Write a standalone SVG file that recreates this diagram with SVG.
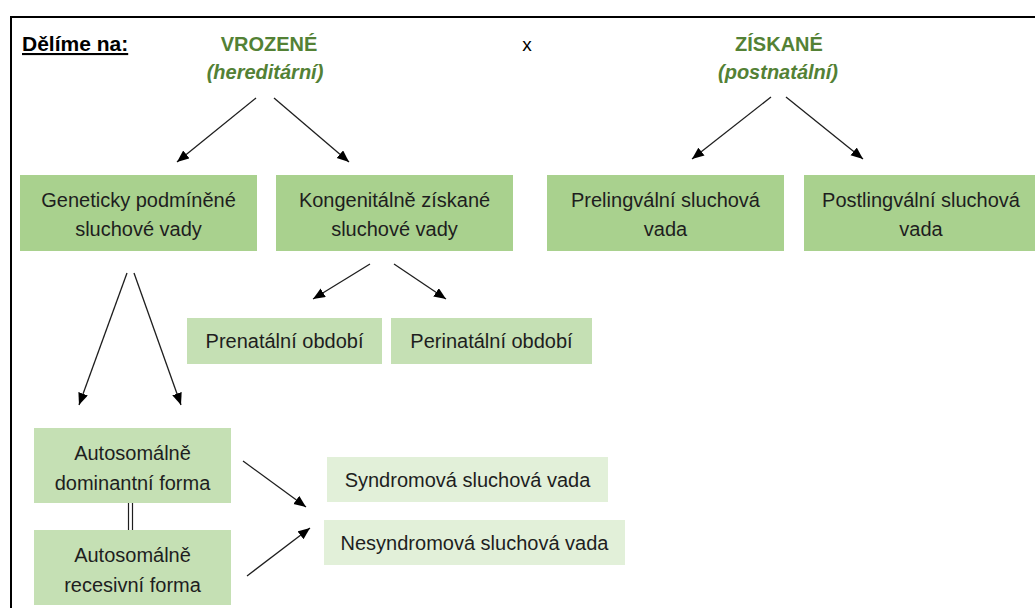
<svg xmlns="http://www.w3.org/2000/svg" width="1035" height="608" viewBox="0 0 1035 608">
<style>
.t{font-family:"Liberation Sans",Arial,sans-serif;font-size:20px;fill:#1e1e1e;text-anchor:middle}
.h{font-family:"Liberation Sans",Arial,sans-serif;font-size:20px;font-weight:bold;fill:#538135;text-anchor:middle}
.hi{font-style:italic}
.b1{fill:#A9D18E}
.b2{fill:#C5E0B4}
.b3{fill:#E2F0D9}
.c{stroke:#1e1e1e;stroke-width:1.3;fill:none;marker-end:url(#ah)}
</style>
<defs>
<marker id="ah" markerUnits="userSpaceOnUse" markerWidth="13" markerHeight="11" refX="12" refY="5" orient="auto">
<path d="M0,0 L12,5 L0,10 z" fill="#000"/>
</marker>
</defs>
<rect width="1035" height="608" fill="#fff"/>
<g id="frame">
<line x1="10" y1="17" x2="1035" y2="17" stroke="#000" stroke-width="2"/>
<line x1="11" y1="16" x2="11" y2="608" stroke="#000" stroke-width="2"/>
</g>
<g id="header">
<text x="22" y="51" font-family="Liberation Sans,Arial,sans-serif" font-size="21" font-weight="bold" fill="#000" text-decoration="underline">Dělíme na:</text>
<text x="527" y="51" font-family="Liberation Sans,Arial,sans-serif" font-size="19" fill="#000" text-anchor="middle">x</text>
</g>
<g id="vrozene">
<text class="h" x="269" y="51">VROZENÉ</text>
<text class="h hi" x="265" y="79">(hereditární)</text>
</g>
<g id="ziskane">
<text class="h" x="779" y="51">ZÍSKANÉ</text>
<text class="h hi" x="778" y="79">(postnatální)</text>
</g>
<g id="geneticky">
<rect class="b1" x="20" y="175" width="237" height="76"/>
<text class="t" x="138.5" y="207">Geneticky podmíněné</text>
<text class="t" x="138.5" y="236">sluchové vady</text>
</g>
<g id="kongenitalne">
<rect class="b1" x="276" y="175" width="237" height="76"/>
<text class="t" x="394.5" y="207">Kongenitálně získané</text>
<text class="t" x="394.5" y="236">sluchové vady</text>
</g>
<g id="prelingvalni">
<rect class="b1" x="547" y="175" width="237" height="76"/>
<text class="t" x="665.5" y="207">Prelingvální sluchová</text>
<text class="t" x="665.5" y="236">vada</text>
</g>
<g id="postlingvalni">
<rect class="b1" x="804" y="175" width="236" height="76"/>
<text class="t" x="921" y="207">Postlingvální sluchová</text>
<text class="t" x="921" y="236">vada</text>
</g>
<g id="prenatalni">
<rect class="b2" x="187" y="318" width="195" height="46"/>
<text class="t" x="284.5" y="348">Prenatální období</text>
</g>
<g id="perinatalni">
<rect class="b2" x="391" y="318" width="201" height="46"/>
<text class="t" x="491.5" y="348">Perinatální období</text>
</g>
<g id="dominantni">
<rect class="b2" x="34" y="428" width="197" height="75"/>
<text class="t" x="132.5" y="460">Autosomálně</text>
<text class="t" x="132.5" y="490">dominantní forma</text>
</g>
<g id="recesivni">
<rect class="b2" x="34" y="530" width="197" height="75"/>
<text class="t" x="132.5" y="562">Autosomálně</text>
<text class="t" x="132.5" y="592">recesivní forma</text>
</g>
<g id="syndromova">
<rect class="b3" x="327" y="457" width="281" height="45"/>
<text class="t" x="467.5" y="487">Syndromová sluchová vada</text>
</g>
<g id="nesyndromova">
<rect class="b3" x="324" y="520" width="301" height="45"/>
<text class="t" x="474.5" y="550">Nesyndromová sluchová vada</text>
</g>
<g id="connectors">
<line class="c" x1="256" y1="98" x2="177" y2="162"/>
<line class="c" x1="274" y1="98" x2="349" y2="162"/>
<line class="c" x1="771" y1="97" x2="692" y2="159"/>
<line class="c" x1="786" y1="97" x2="863" y2="159"/>
<line class="c" x1="370" y1="264" x2="313" y2="299"/>
<line class="c" x1="394" y1="264" x2="446" y2="299"/>
<line class="c" x1="127" y1="273" x2="79" y2="405"/>
<line class="c" x1="134" y1="273" x2="181" y2="405"/>
<line class="c" x1="243" y1="461" x2="306" y2="507"/>
<line class="c" x1="247" y1="576" x2="310" y2="528"/>
<line x1="128.5" y1="503" x2="128.5" y2="530" stroke="#1e1e1e" stroke-width="1.2"/>
<line x1="132.5" y1="503" x2="132.5" y2="530" stroke="#1e1e1e" stroke-width="1.2"/>
</g>
</svg>
